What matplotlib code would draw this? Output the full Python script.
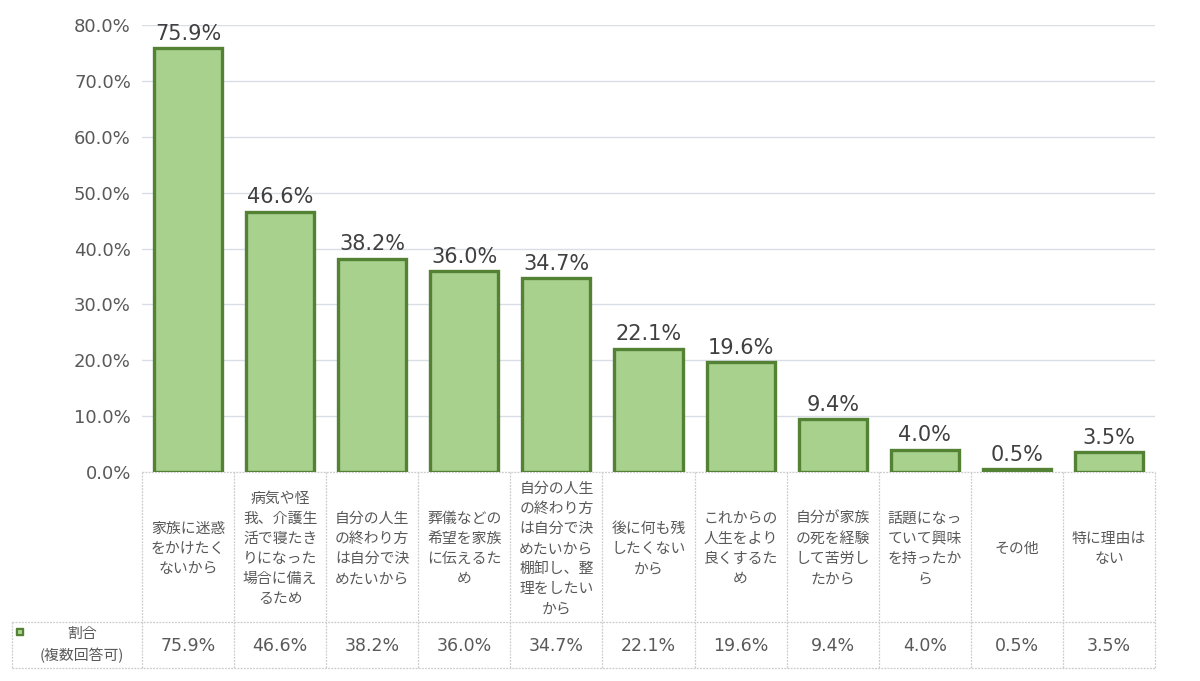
import matplotlib
matplotlib.use('Agg')
import matplotlib.pyplot as plt
import matplotlib.patches as mpatches
import numpy as np

plt.rcParams['font.family'] = ['DejaVu Sans', 'Noto Sans CJK JP']

categories = [
    '家族に迷惑\nをかけたく\nないから',
    '病気や怪\n我、介護生\n活で寝たき\nりになった\n場合に備え\nるため',
    '自分の人生\nの終わり方\nは自分で決\nめたいから',
    '葬儀などの\n希望を家族\nに伝えるた\nめ',
    '自分の人生\nの終わり方\nは自分で決\nめたいから\n棚卸し、整\n理をしたい\nから',
    '後に何も残\nしたくない\nから',
    'これからの\n人生をより\n良くするた\nめ',
    '自分が家族\nの死を経験\nして苦労し\nたから',
    '話題になっ\nていて興味\nを持ったか\nら',
    'その他',
    '特に理由は\nない',
]
values = [75.9, 46.6, 38.2, 36.0, 34.7, 22.1, 19.6, 9.4, 4.0, 0.5, 3.5]
series_name = '割合\n(複数回答可)'
yticks = [0, 10, 20, 30, 40, 50, 60, 70, 80]

C_FILL = '#a9d18e'
C_EDGE = '#548235'
C_GRID = '#d9dde6'
C_TEXT = '#595959'
C_BORDER = '#cccccc'

W, H = 1200, 681
fig = plt.figure(figsize=(W / 100, H / 100), dpi=100)

# plot area (pixels)
px_l, px_r, px_t, px_b = 142, 1155, 25, 472
ax = fig.add_axes([px_l / W, 1 - px_b / H, (px_r - px_l) / W, (px_b - px_t) / H])

x = np.arange(len(values))
bars = ax.bar(x, values, width=0.74, color=C_FILL, edgecolor=C_EDGE, linewidth=2.4, zorder=3)
ax.set_xlim(-0.5, len(values) - 0.5)
ax.set_ylim(0, 80)
ax.set_yticks(yticks)
ax.set_yticklabels([f'{v:.1f}%' for v in yticks], fontsize=13, color=C_TEXT)
ax.set_xticks([])
ax.tick_params(axis='y', length=0, pad=8)
ax.grid(axis='y', color=C_GRID, linewidth=1, zorder=0)
for s in ax.spines.values():
    s.set_visible(False)

for b, v in zip(bars, values):
    ax.annotate(f'{v:.1f}%', (b.get_x() + b.get_width() / 2, v), xytext=(0, 3),
                textcoords='offset points', ha='center', va='bottom',
                fontsize=15, color='#404040')

# ── data table below the plot ──
tab = fig.add_axes([0, 0, 1, 1], zorder=-1)
tab.set_xlim(0, W)
tab.set_ylim(H, 0)
tab.axis('off')

row1_t, row1_b, row2_b = px_b, 622, 668
tab_l = 12
col_w = (px_r - px_l) / len(values)
edges = [px_l + i * col_w for i in range(len(values) + 1)]

lk = dict(color=C_BORDER, linewidth=0.9, linestyle=(0, (1.5, 1)))
for xe in edges:
    tab.plot([xe, xe], [row1_t, row2_b], **lk)
tab.plot([tab_l, tab_l], [row1_b, row2_b], **lk)
tab.plot([px_l, px_r], [row1_t, row1_t], **lk)
tab.plot([tab_l, px_r], [row1_b, row1_b], **lk)
tab.plot([tab_l, px_r], [row2_b, row2_b], **lk)

for i, (cat, v) in enumerate(zip(categories, values)):
    cx = edges[i] + col_w / 2
    tab.text(cx, (row1_t + row1_b) / 2 + 2, cat, ha='center', va='center',
             fontsize=10.7, color=C_TEXT, linespacing=1.55,
             family=['Noto Sans CJK JP', 'DejaVu Sans'])
    tab.text(cx, (row1_b + row2_b) / 2 + 1, f'{v:.1f}%', ha='center', va='center',
             fontsize=12.5, color=C_TEXT)

tab.add_patch(mpatches.Rectangle((16, 628), 7, 7, facecolor=C_EDGE, edgecolor=C_EDGE, linewidth=1))
tab.add_patch(mpatches.Rectangle((17.5, 629.5), 4, 4, facecolor=C_FILL, edgecolor='none'))
tab.text(82, (row1_b + row2_b) / 2, series_name, ha='center', va='center',
         fontsize=10.7, color=C_TEXT, linespacing=1.5,
         family=['Noto Sans CJK JP', 'DejaVu Sans'])

fig.savefig('out.png', dpi=100, facecolor='white')
plt.close(fig)
